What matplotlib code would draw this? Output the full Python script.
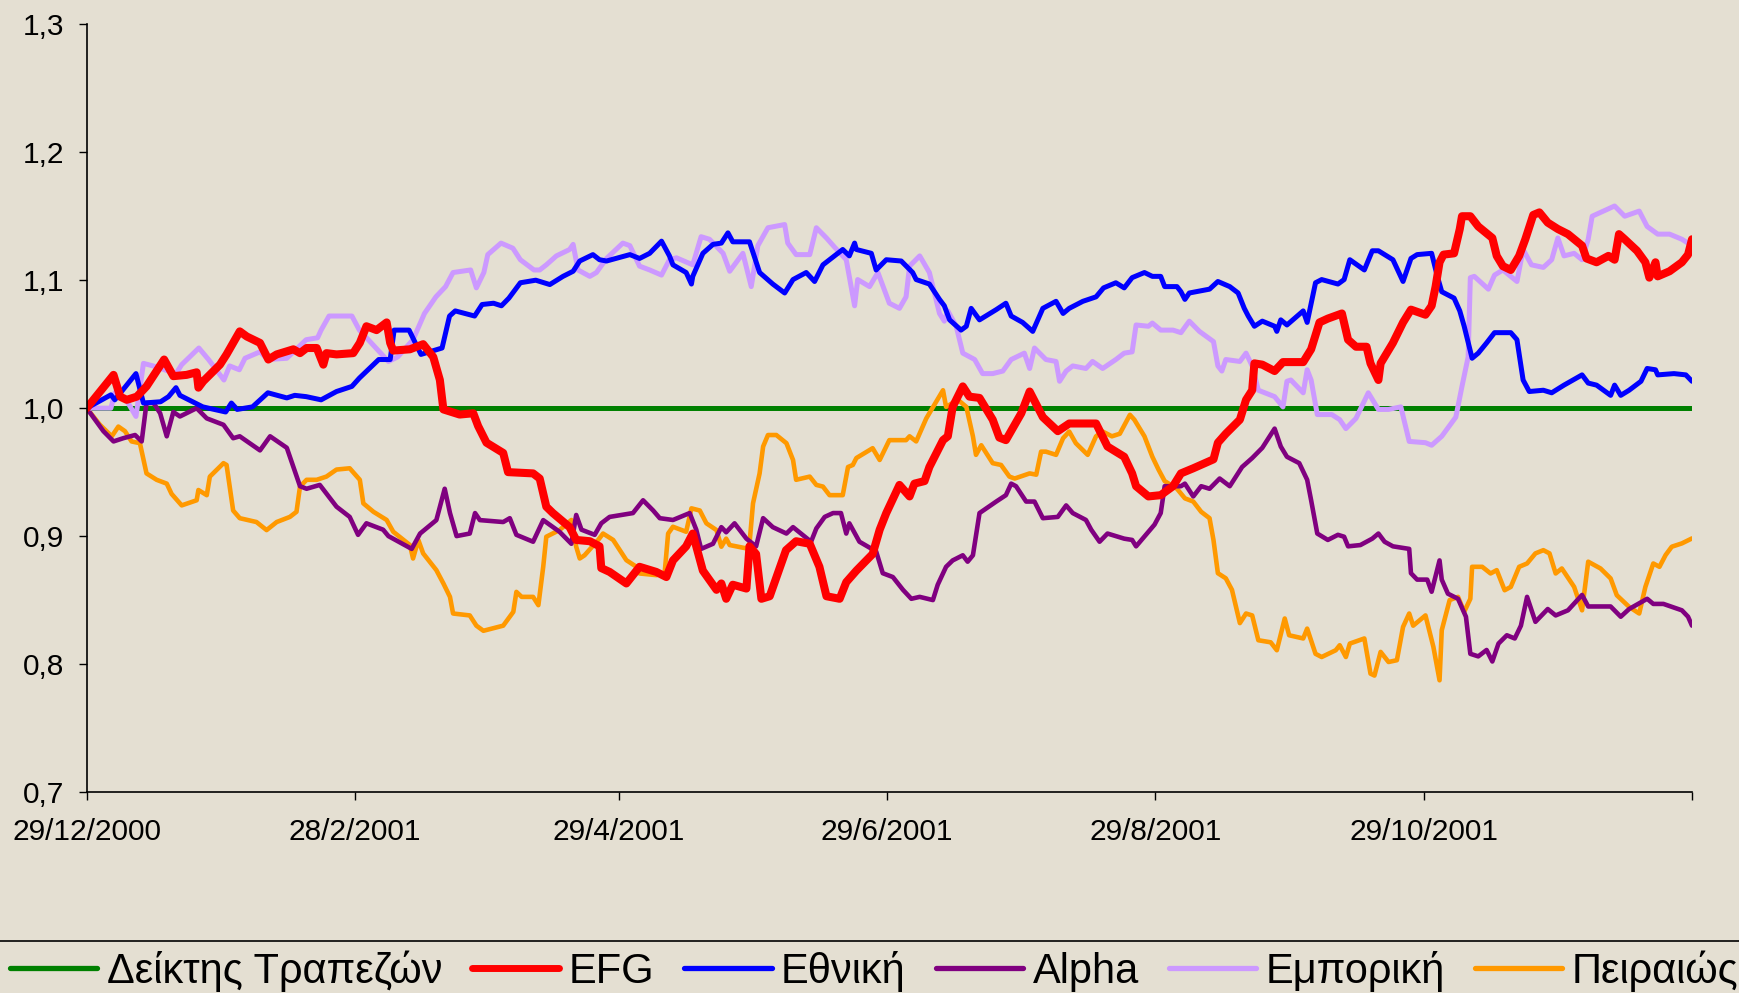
import numpy as np
import matplotlib
matplotlib.use("Agg")
import matplotlib.pyplot as plt
from matplotlib.lines import Line2D

plt.rcParams['font.family'] = ['Liberation Sans', 'DejaVu Sans']

# ---------------- data (day offset from 29/12/2000, relative value) ----------------
start_date = np.datetime64('2000-12-29')
end_days = 365

index_days = [0, 365]
index_vals = [1.0, 1.0]

efg_days = [0, 6.1, 7.6, 9.1, 11.4, 13.6, 17.6, 19.7, 22.7, 25, 25.4, 26.5, 30.3, 31.8, 34.8, 36.4, 39.4,
            41.3, 43.2, 47, 48.5, 50, 52.3, 53.8, 54.5, 56.8, 60.6, 62.1, 63.6, 65.9, 68.2, 69, 69.7, 73.5,
            76.5, 78.8, 80.3, 81.1, 84.8, 87.9, 89, 90.9, 94.7, 95.8, 101.5, 103, 104.5, 106, 109.8, 111.3,
            114.4, 116.6, 117, 118.9, 122.7, 125.7, 129.5, 131.8, 133.3, 136.3, 137.8, 140.1, 143.2, 144.3,
            145.4, 146.9, 150, 150.7, 152.2, 153.4, 155.3, 159, 161.3, 164.4, 166.6, 168.2, 171.2, 172.7,
            175, 178.7, 180.3, 181.8, 184.8, 187.1, 188.2, 190.5, 191.6, 194.7, 195.8, 196.9, 199.2, 200.7,
            203, 206, 207.5, 209, 212.5, 214.4, 217.4, 220.8, 223.4, 229.5, 232.1, 235.9, 237.7, 238.6,
            241.4, 244.2, 247, 248.8, 251.6, 256.2, 257.2, 259, 262.2, 263.6, 265, 265.5, 267.3, 270.1, 272,
            276.6, 278.4, 280.3, 282.2, 285.4, 286.8, 288.6, 291, 291.9, 293.7, 294.2, 297, 299.3, 301.1,
            304.4, 305.8, 306.7, 307.6, 308.5, 310.9, 312.2, 312.7, 314.6, 316.4, 319.6, 320.6, 322, 323.8,
            325.7, 327.1, 328.9, 330.3, 332.2, 334.5, 336.8, 340, 341, 343.3, 346, 347.4, 348.4, 349.7,
            352.5, 354.4, 355.3, 356.7, 357.2, 359.9, 362.7, 364.1, 365]
efg_vals = [1.0, 1.026, 1.009, 1.0065, 1.009, 1.017, 1.038, 1.025, 1.026, 1.028, 1.016, 1.021, 1.034, 1.042,
            1.06, 1.056, 1.051, 1.038, 1.042, 1.046, 1.043, 1.047, 1.047, 1.034, 1.043, 1.042, 1.043, 1.051,
            1.064, 1.061, 1.067, 1.051, 1.045, 1.046, 1.05, 1.04, 1.022, 0.999, 0.995, 0.996, 0.986, 0.973,
            0.965, 0.95, 0.949, 0.945, 0.923, 0.918, 0.907, 0.897, 0.896, 0.892, 0.875, 0.872, 0.863, 0.876,
            0.872, 0.868, 0.881, 0.892, 0.902, 0.873, 0.858, 0.863, 0.851, 0.862, 0.859, 0.892, 0.886, 0.851,
            0.853, 0.889, 0.896, 0.894, 0.876, 0.853, 0.851, 0.864, 0.873, 0.886, 0.905, 0.918, 0.94, 0.931,
            0.941, 0.943, 0.954, 0.975, 0.978, 1.001, 1.017, 1.009, 1.008, 0.991, 0.977, 0.975, 0.996, 1.013,
            0.993, 0.982, 0.988, 0.988, 0.97, 0.962, 0.949, 0.939, 0.931, 0.932, 0.939, 0.949, 0.953, 0.96,
            0.973, 0.98, 0.991, 1.0065, 1.014, 1.035, 1.034, 1.029, 1.036, 1.036, 1.046, 1.067, 1.07, 1.074,
            1.0535, 1.048, 1.048, 1.035, 1.022, 1.035, 1.051, 1.067, 1.077, 1.073, 1.08, 1.095, 1.114, 1.12,
            1.121, 1.14, 1.15, 1.15, 1.142, 1.133, 1.119, 1.111, 1.108, 1.119, 1.132, 1.151, 1.153, 1.145,
            1.14, 1.136, 1.127, 1.117, 1.114, 1.119, 1.116, 1.136, 1.132, 1.123, 1.114, 1.102, 1.114, 1.103,
            1.107, 1.114, 1.12, 1.132]

ethniki_days = [0, 5.5, 6.4, 11.2, 12.9, 16.8, 18.6, 20.3, 21.2, 26.4, 29, 31.6, 32.9, 34.2, 37.7, 41.2,
                45.5, 47.3, 49.9, 53.3, 56.8, 60.3, 62, 66.4, 69, 69.9, 73.3, 76, 80.8, 82.5, 83.8, 88.2,
                89.9, 92.5, 94.3, 96, 98.6, 102.1, 105.3, 108.3, 110.6, 112.1, 115.1, 116.6, 118.2, 123.5,
                125.7, 128, 130.7, 132.5, 133.3, 136.3, 137.5, 137.8, 140.1, 142.4, 144.3, 145.8, 146.9,
                150.7, 153, 156, 158.7, 160.6, 163.6, 165.5, 167.4, 168.9, 171.9, 173.4, 174.6, 175, 178.4,
                179.5, 181.8, 185.2, 187.8, 188.6, 191.6, 193.9, 195, 196.2, 198.8, 200, 201.1, 203, 206.8,
                209, 210.2, 212.8, 215.1, 217.4, 220.4, 222, 223.4, 226.5, 229.5, 231.2, 234, 235.9, 237.7,
                240.5, 242.3, 244.2, 245.1, 247.9, 248.8, 249.7, 250.7, 255.3, 257.2, 259.9, 261.8, 263.2,
                264.1, 265.5, 267.3, 270.1, 270.6, 271.5, 272.9, 276.6, 277.5, 279.4, 280.8, 284.5, 285.9,
                287.2, 290.5, 292.3, 293.7, 297, 299.3, 301.1, 302.5, 305.8, 307.1, 308.1, 310.9, 312.2,
                313.2, 315, 316.4, 318.3, 320.1, 323.8, 325.2, 326.6, 328, 331.2, 333.1, 335.9, 340, 341.4,
                343.3, 346.5, 347.4, 348.8, 350.7, 353.4, 354.8, 356.7, 357.2, 360.9, 363.6, 365]
ethniki_vals = [1.0, 1.0104, 1.0065, 1.027, 1.004, 1.005, 1.009, 1.016, 1.01, 1.001, 0.999, 0.997, 1.004,
                0.999, 1.001, 1.012, 1.008, 1.01, 1.009, 1.0065, 1.013, 1.017, 1.0235, 1.038, 1.038, 1.061,
                1.061, 1.042, 1.047, 1.072, 1.076, 1.072, 1.081, 1.082, 1.08, 1.086, 1.098, 1.1, 1.0966,
                1.103, 1.107, 1.115, 1.12, 1.116, 1.115, 1.12, 1.117, 1.121, 1.1305, 1.119, 1.112, 1.106,
                1.097, 1.103, 1.121, 1.128, 1.129, 1.137, 1.13, 1.13, 1.106, 1.097, 1.09, 1.1005, 1.106,
                1.099, 1.112, 1.116, 1.124, 1.119, 1.129, 1.124, 1.121, 1.108, 1.116, 1.115, 1.106, 1.1005,
                1.097, 1.085, 1.08, 1.069, 1.061, 1.064, 1.078, 1.069, 1.077, 1.082, 1.072, 1.067, 1.06,
                1.078, 1.0835, 1.074, 1.078, 1.0835, 1.087, 1.094, 1.098, 1.094, 1.102, 1.106, 1.103, 1.103,
                1.095, 1.095, 1.091, 1.085, 1.09, 1.093, 1.099, 1.095, 1.09, 1.078, 1.072, 1.064, 1.068,
                1.064, 1.06, 1.069, 1.065, 1.076, 1.067, 1.098, 1.1005, 1.097, 1.1005, 1.116, 1.108, 1.123,
                1.123, 1.116, 1.099, 1.117, 1.12, 1.121, 1.103, 1.091, 1.086, 1.076, 1.064, 1.039, 1.043,
                1.051, 1.059, 1.059, 1.0535, 1.022, 1.013, 1.014, 1.012, 1.018, 1.026, 1.0196, 1.018, 1.01,
                1.018, 1.01, 1.014, 1.021, 1.031, 1.03, 1.026, 1.027, 1.026, 1.021]

alpha_days = [0, 3.8, 6.1, 8.3, 11, 12.5, 13.6, 15.2, 16.7, 18.2, 19.7, 21.2, 25, 27.3, 31.1, 33.3, 34.8,
              39.4, 41.7, 45.5, 48.5, 50, 53, 56.8, 59.8, 61.7, 63.6, 67.4, 68.6, 73.9, 75.8, 79.5, 81.4,
              82.6, 84.1, 87.1, 88.3, 89.4, 94.7, 96.2, 97.7, 101.5, 103.8, 107.5, 110.2, 111.3, 112.5,
              115.5, 117, 118.9, 124.2, 126.5, 128.8, 130.3, 133.3, 137.1, 138.6, 139.7, 142.4, 144.3,
              145.4, 147.3, 150, 152.2, 153.8, 156, 159.1, 160.6, 164.7, 165.9, 167.8, 169.7, 171.5, 172.7,
              173.4, 175.7, 179.5, 181, 183.3, 185.6, 187.5, 189.4, 192.4, 193.5, 195.4, 196.9, 199.2,
              200.3, 201.5, 203, 206.8, 209, 210.2, 211.3, 213.6, 215.5, 217.4, 220.8, 222.7, 224.2, 227.2,
              228.4, 230.3, 232.1, 235.9, 237.7, 238.6, 241.4, 242.8, 244.2, 245.1, 248.8, 249.7, 251.6,
              253.4, 255.3, 257.6, 259.9, 262.7, 265, 267.3, 270.1, 271.5, 272.9, 275.7, 277.5, 278.4,
              279.8, 282.2, 284.5, 285.9, 286.8, 289.6, 292.3, 293.7, 295.1, 297, 300.7, 301.1, 302.5,
              304.8, 305.8, 307.6, 308.1, 309.5, 311.8, 313.6, 314.6, 316.4, 318.3, 319.6, 321, 322.9,
              324.7, 326.1, 327.5, 329.4, 332.2, 334, 336.8, 340, 341.4, 346.5, 348.8, 350.7, 354.8, 356.2,
              358.5, 362.7, 364.1, 365]
alpha_vals = [1.0, 0.982, 0.974, 0.9765, 0.979, 0.974, 1.004, 1.004, 0.996, 0.978, 0.997, 0.9935, 1.0,
              0.992, 0.987, 0.9765, 0.978, 0.967, 0.978, 0.969, 0.939, 0.937, 0.94, 0.923, 0.915, 0.901,
              0.91, 0.905, 0.9, 0.89, 0.902, 0.9125, 0.937, 0.918, 0.9, 0.902, 0.918, 0.9125, 0.911, 0.914,
              0.901, 0.8956, 0.9125, 0.9034, 0.894, 0.9165, 0.905, 0.901, 0.91, 0.915, 0.918, 0.928, 0.92,
              0.914, 0.9126, 0.918, 0.905, 0.89, 0.894, 0.907, 0.903, 0.91, 0.898, 0.892, 0.914, 0.907,
              0.902, 0.907, 0.8956, 0.906, 0.915, 0.918, 0.918, 0.902, 0.91, 0.8956, 0.888, 0.871, 0.868,
              0.858, 0.851, 0.8525, 0.85, 0.862, 0.876, 0.881, 0.885, 0.88, 0.885, 0.918, 0.927, 0.932,
              0.941, 0.939, 0.927, 0.927, 0.914, 0.915, 0.924, 0.918, 0.9126, 0.905, 0.8956, 0.902, 0.898,
              0.897, 0.892, 0.9034, 0.909, 0.918, 0.939, 0.939, 0.941, 0.931, 0.939, 0.937, 0.945, 0.939,
              0.954, 0.961, 0.969, 0.984, 0.97, 0.962, 0.957, 0.944, 0.928, 0.902, 0.897, 0.901, 0.8995,
              0.892, 0.893, 0.898, 0.902, 0.8956, 0.892, 0.89, 0.871, 0.866, 0.866, 0.8565, 0.881, 0.866,
              0.855, 0.851, 0.837, 0.808, 0.806, 0.811, 0.802, 0.816, 0.8225, 0.82, 0.83, 0.8525, 0.833,
              0.843, 0.838, 0.842, 0.854, 0.845, 0.845, 0.837, 0.843, 0.851, 0.847, 0.847, 0.842, 0.837,
              0.83]

emporiki_days = [0, 5.5, 6.4, 9, 11.2, 12.9, 15.1, 17.7, 20.3, 21.6, 25.5, 27.7, 31.2, 32.5, 34.7, 36,
                 39.4, 41.2, 45.5, 49.9, 52.5, 53.3, 55.1, 60.3, 62, 65.5, 68.6, 70.7, 74.2, 76.8, 79.4,
                 81.6, 83.3, 87.3, 88.6, 90.3, 91.2, 94.2, 96.9, 98.6, 101.7, 103, 104.5, 106.8, 109.8,
                 110.6, 111.7, 114.4, 115.9, 118.2, 121.9, 123.5, 125.7, 128, 130.7, 132.5, 134.1, 137.8,
                 139.7, 141.6, 144.7, 146.2, 149.2, 151.1, 152.6, 154.9, 158.7, 159.4, 161.3, 164.4, 165.9,
                 168.2, 170, 172.7, 174.6, 175.3, 178, 179.9, 182.5, 184.8, 186.3, 187.1, 189.4, 191.6,
                 193.9, 195, 195.8, 197.7, 199.2, 201.9, 203.7, 206, 208.3, 210.2, 213.2, 214.4, 215.5,
                 218.1, 220.4, 221.2, 222.7, 224.2, 227.2, 228.7, 231, 234, 235.9, 237.7, 238.6, 241.4,
                 242.3, 244.2, 247, 248.8, 250.7, 253, 256.2, 257.2, 258.1, 259, 262.2, 263.6, 265, 266.4,
                 270.1, 272, 272.9, 273.8, 276.6, 277.5, 278.4, 279.8, 283.1, 284.9, 286.3, 288.6, 291.4,
                 293.7, 296, 298.8, 300.7, 304.4, 305.8, 308.1, 311.3, 312.7, 314.1, 314.6, 315.5, 318.7,
                 320.1, 322, 323.8, 325.2, 326.6, 328.5, 331.2, 333.1, 334.5, 335.9, 338.2, 340, 341.4,
                 342.3, 347.4, 349.7, 353, 354.8, 357.2, 359.9, 362.7, 365]
emporiki_vals = [1.0, 1.0, 1.012, 1.0065, 0.9935, 1.035, 1.033, 1.03, 1.027, 1.034, 1.047, 1.038, 1.022,
                 1.033, 1.03, 1.039, 1.044, 1.038, 1.039, 1.0535, 1.055, 1.061, 1.072, 1.072, 1.061, 1.048,
                 1.0365, 1.04, 1.0535, 1.074, 1.087, 1.095, 1.106, 1.108, 1.094, 1.106, 1.12, 1.129, 1.125,
                 1.116, 1.108, 1.108, 1.112, 1.119, 1.124, 1.128, 1.108, 1.103, 1.106, 1.117, 1.129, 1.127,
                 1.111, 1.108, 1.104, 1.116, 1.1175, 1.112, 1.134, 1.132, 1.121, 1.107, 1.121, 1.095, 1.127,
                 1.141, 1.1435, 1.129, 1.12, 1.12, 1.141, 1.133, 1.126, 1.116, 1.08, 1.1005, 1.095, 1.106,
                 1.082, 1.078, 1.087, 1.111, 1.119, 1.106, 1.074, 1.068, 1.076, 1.064, 1.043, 1.038, 1.027,
                 1.027, 1.029, 1.038, 1.043, 1.031, 1.047, 1.038, 1.0365, 1.021, 1.029, 1.033, 1.031, 1.0365,
                 1.031, 1.038, 1.043, 1.044, 1.065, 1.064, 1.0665, 1.061, 1.061, 1.059, 1.068, 1.06, 1.052,
                 1.033, 1.029, 1.038, 1.0365, 1.043, 1.033, 1.014, 1.009, 1.001, 1.021, 1.022, 1.012, 1.03,
                 1.022, 0.995, 0.995, 0.991, 0.984, 0.992, 1.012, 0.999, 0.999, 1.001, 0.974, 0.973, 0.971,
                 0.978, 0.993, 1.017, 1.04, 1.102, 1.103, 1.093, 1.104, 1.108, 1.103, 1.099, 1.124, 1.112,
                 1.11, 1.116, 1.133, 1.119, 1.121, 1.116, 1.132, 1.15, 1.158, 1.15, 1.154, 1.142, 1.136,
                 1.136, 1.132, 1.127]

peiraios_days = [0, 3, 5.7, 7.2, 8.7, 10.2, 12.1, 13.6, 15.9, 18.2, 19.3, 21.6, 25, 25.4, 27.3, 28, 31.1,
                 31.8, 33.3, 34.8, 38.6, 40.9, 43.2, 46.2, 47.7, 48.5, 50, 52.3, 54.5, 56.8, 59.8, 62.1,
                 62.9, 65.2, 68.2, 69.7, 73.5, 74.2, 75.4, 76.5, 79.5, 81.1, 82.6, 83.3, 87.1, 88.6, 90.2,
                 94.7, 97, 97.7, 98.9, 101.5, 102.7, 103.8, 104.5, 107.5, 110.2, 111.3, 112.1, 113.2, 116.3,
                 117.4, 119.7, 122.7, 125, 125.7, 129.5, 131.4, 132.2, 133.3, 136.3, 137.5, 139.4, 140.9,
                 143.2, 144.3, 145.4, 146.2, 150, 150.7, 151.5, 153, 153.8, 154.9, 156.8, 159.1, 160.6,
                 161.3, 164.4, 165.9, 167.4, 168.9, 171.9, 173.1, 174.2, 175, 178.7, 180.3, 182.5, 186.3,
                 187.1, 188.6, 190.9, 194.7, 195.4, 198.1, 200, 201.5, 202.2, 203.4, 206, 207.9, 209.8, 211,
                 214.4, 215.9, 217, 218.1, 220.4, 222, 223.4, 224.9, 227.6, 229.5, 231, 233.1, 234.9, 237.2,
                 238.2, 240.5, 242.3, 243.7, 245.1, 247.9, 249.7, 251.6, 253.4, 255.3, 256.2, 257.2, 259,
                 260.4, 262.2, 263.6, 265, 266.4, 269.2, 270.6, 272.4, 273.4, 276.6, 277.5, 279.4, 280.8,
                 284, 284.9, 286.3, 287.2, 290.5, 291.9, 292.8, 294.2, 296, 297.9, 299.3, 300.7, 301.6,
                 304.4, 306.2, 307.6, 308.1, 309.9, 311.8, 313.2, 314.6, 315, 317.3, 319.2, 320.6, 322.4,
                 323.8, 325.7, 327.5, 329.4, 331.2, 332.6, 334, 335.4, 338.2, 340, 341.4, 344.2, 346.5,
                 347.9, 350.7, 353, 354.4, 356.2, 357.6, 359, 360.4, 362.7, 365]
peiraios_vals = [1.0, 0.987, 0.978, 0.9856, 0.982, 0.974, 0.9726, 0.949, 0.944, 0.941, 0.933, 0.924, 0.928,
                 0.936, 0.932, 0.9465, 0.957, 0.9556, 0.92, 0.914, 0.911, 0.9047, 0.911, 0.915, 0.919,
                 0.9387, 0.944, 0.944, 0.9465, 0.952, 0.953, 0.944, 0.9256, 0.919, 0.9126, 0.9034, 0.893,
                 0.8825, 0.897, 0.8865, 0.8734, 0.863, 0.8525, 0.8395, 0.838, 0.83, 0.826, 0.83, 0.8408,
                 0.8564, 0.8525, 0.8525, 0.846, 0.876, 0.8995, 0.9047, 0.9126, 0.8917, 0.8825, 0.885, 0.897,
                 0.902, 0.897, 0.8812, 0.876, 0.8708, 0.8695, 0.8708, 0.902, 0.9073, 0.9034, 0.9217, 0.92,
                 0.91, 0.9047, 0.8917, 0.898, 0.893, 0.8904, 0.894, 0.9256, 0.949, 0.97, 0.979, 0.979,
                 0.9726, 0.9595, 0.944, 0.9465, 0.94, 0.9387, 0.932, 0.932, 0.954, 0.9556, 0.961, 0.9687,
                 0.9595, 0.975, 0.975, 0.978, 0.974, 0.992, 1.014, 1.001, 1.0065, 1.001, 0.978, 0.9635,
                 0.971, 0.957, 0.9556, 0.9465, 0.945, 0.949, 0.948, 0.966, 0.966, 0.9635, 0.9765, 0.9817,
                 0.9726, 0.9635, 0.978, 0.9817, 0.978, 0.98, 0.9948, 0.991, 0.978, 0.962, 0.952, 0.943,
                 0.937, 0.9295, 0.927, 0.919, 0.914, 0.8969, 0.871, 0.867, 0.858, 0.832, 0.8395, 0.838,
                 0.8186, 0.817, 0.8108, 0.8356, 0.8225, 0.82, 0.8277, 0.808, 0.8055, 0.8108, 0.8147, 0.8055,
                 0.816, 0.82, 0.7925, 0.791, 0.8095, 0.8016, 0.803, 0.829, 0.8395, 0.83, 0.838, 0.8134,
                 0.7873, 0.8264, 0.85, 0.8525, 0.8408, 0.851, 0.876, 0.876, 0.8708, 0.8734, 0.8577, 0.8603,
                 0.876, 0.8786, 0.8865, 0.889, 0.8865, 0.8708, 0.8747, 0.8603, 0.842, 0.88, 0.8747, 0.8669,
                 0.8538, 0.8447, 0.8395, 0.8603, 0.8786, 0.876, 0.8852, 0.8917, 0.8943, 0.8982]

series_names = ['Δείκτης Τραπεζών', 'EFG', 'Εθνική', 'Alpha', 'Εμπορική', 'Πειραιώς']
series_colors = ['#008000', '#FF0000', '#0000FF', '#800080', '#CC99FF', '#FF9900']
series_widths = [3.6, 5.8, 3.6, 3.3, 3.6, 3.3]

xtick_days = [0, 61, 121, 182, 243, 304, 365]
xtick_labels = ['29/12/2000', '28/2/2001', '29/4/2001', '29/6/2001', '29/8/2001', '29/10/2001', '']
ytick_vals = [0.7, 0.8, 0.9, 1.0, 1.1, 1.2, 1.3]
ytick_labels = ['0,7', '0,8', '0,9', '1,0', '1,1', '1,2', '1,3']

# ---------------- figure ----------------
bg = '#E4DFD2'
W, H = 1739, 993
fig = plt.figure(figsize=(W / 100, H / 100), dpi=100, facecolor=bg)
ax = fig.add_axes([86.7 / W, 1 - 792 / H, (1692 - 86.7) / W, (792 - 24.3) / H])
ax.set_facecolor(bg)


def to_dates(days):
    return start_date + (np.array(days) * 24 * 3600).astype('timedelta64[s]')


all_days = [index_days, efg_days, ethniki_days, alpha_days, emporiki_days, peiraios_days]
all_vals = [index_vals, efg_vals, ethniki_vals, alpha_vals, emporiki_vals, peiraios_vals]

order = [0, 5, 3, 4, 2, 1]
for i in order:
    ax.plot(to_dates(all_days[i]), all_vals[i], color=series_colors[i],
            lw=series_widths[i], solid_joinstyle='round', solid_capstyle='round',
            label=series_names[i], zorder=1.5 if i == 0 else 2)

ax.set_xlim(to_dates([0])[0], to_dates([end_days])[0])
ax.set_ylim(0.7, 1.3)
ax.set_xticks(to_dates(xtick_days))
ax.set_xticklabels(xtick_labels)
ax.set_yticks(ytick_vals)
ax.set_yticklabels(ytick_labels)

for s in ['top', 'right']:
    ax.spines[s].set_visible(False)
for s in ['left', 'bottom']:
    ax.spines[s].set_color('black')
    ax.spines[s].set_linewidth(1.2)

ax.tick_params(axis='x', direction='out', length=6, width=1, labelsize=21.5, pad=13, colors='black')
ax.tick_params(axis='y', direction='out', length=6, width=1, labelsize=21.5, pad=10, colors='black')

# legend
leg_handles = [Line2D([], [], color=series_colors[i], lw=(5 if i == 1 else 3.8),
                      solid_capstyle='round') for i in range(6)]
leg = fig.legend(leg_handles, series_names, loc='center left',
                 bbox_to_anchor=(10 / W, 1 - 971 / H), ncol=6, frameon=False,
                 fontsize=30, handlelength=2.09, handletextpad=0.23, columnspacing=0.72,
                 borderpad=0, borderaxespad=0)

fig.add_artist(Line2D([0, 1], [1 - 941 / H, 1 - 941 / H], transform=fig.transFigure,
                      color='black', lw=1.2))

fig.savefig('out.png', dpi=100, facecolor=bg)
